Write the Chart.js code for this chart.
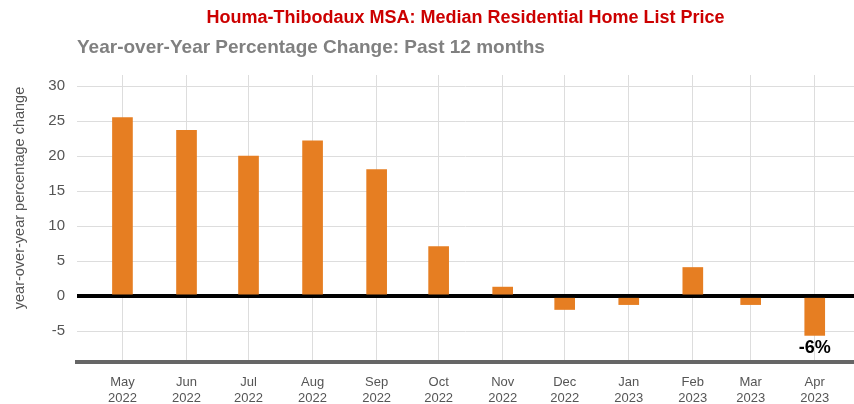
<!DOCTYPE html>
<html>
<head>
<meta charset="utf-8">
<script src="https://cdn.jsdelivr.net/npm/chart.js@4"></script>
<style>
  html, body { margin: 0; padding: 0; background: #fff; }
  #wrap { width: 854px; height: 404px; }
</style>
</head>
<body>
<div id="wrap"><canvas id="yoyChart"></canvas></div>
<script>
// Data
const months = ['May', 'Jun', 'Jul', 'Aug', 'Sep', 'Oct', 'Nov', 'Dec', 'Jan', 'Feb', 'Mar', 'Apr'];
const years = ['2022', '2022', '2022', '2022', '2022', '2022', '2022', '2022', '2023', '2023', '2023', '2023'];
const dates = ['2022-05-01', '2022-06-01', '2022-07-01', '2022-08-01', '2022-09-01', '2022-10-01',
               '2022-11-01', '2022-12-01', '2023-01-01', '2023-02-01', '2023-03-01', '2023-04-01'];
const pctChange = [25.5, 23.7, 20.0, 22.2, 18.1, 7.1, 1.3, -1.9, -1.2, 4.1, -1.2, -5.6];
const yTicks = [-5, 0, 5, 10, 15, 20, 25, 30];

const chartTitle = 'Houma-Thibodaux MSA: Median Residential Home List Price';
const chartSubtitle = 'Year-over-Year Percentage Change: Past 12 months';
const yTitle = 'year-over-year percentage change';

// days since first month, so bars sit on a real time spacing
const t0 = Date.parse(dates[0]);
const days = dates.map(d => Math.round((Date.parse(d) - t0) / 86400000));

const FONT = '"Liberation Sans", Arial, sans-serif';

// titles, rotated y label and the last-value annotation
const textPlugin = {
    id: 'texts',
    afterDraw(chart) {
        const ctx = chart.ctx;
        const area = chart.chartArea;
        ctx.save();
        ctx.textBaseline = 'middle';

        ctx.fillStyle = '#CC0000';
        ctx.font = 'bold 18px ' + FONT;
        ctx.textAlign = 'center';
        ctx.fillText(chartTitle, (area.left + area.right) / 2, 18);

        ctx.fillStyle = '#808080';
        ctx.font = 'bold 19px ' + FONT;
        ctx.textAlign = 'left';
        ctx.fillText(chartSubtitle, area.left, 48);

        ctx.fillStyle = '#555555';
        ctx.font = '14.5px ' + FONT;
        ctx.textAlign = 'center';
        ctx.translate(20, 198);
        ctx.rotate(-Math.PI / 2);
        ctx.fillText(yTitle, 0, 0);
        ctx.restore();

        // label under the latest bar
        const last = pctChange.length - 1;
        const x = chart.scales.x.getPixelForValue(days[last]);
        const y = chart.scales.y.getPixelForValue(pctChange[last]);
        ctx.save();
        ctx.fillStyle = '#000';
        ctx.font = 'bold 18px ' + FONT;
        ctx.textAlign = 'center';
        ctx.textBaseline = 'middle';
        ctx.fillText(Math.round(pctChange[last]) + '%', x, y + 13);
        ctx.restore();
    }
};

const data = {
    datasets: [{
        label: 'YoY % change',
        data: days.map((d, i) => ({ x: d, y: pctChange[i] })),
        backgroundColor: '#E67E22',
        borderWidth: 0,
        barThickness: 20
    }]
};

const config = {
    type: 'bar',
    data: data,
    options: {
        responsive: true,
        maintainAspectRatio: false,
        animation: false,
        layout: { padding: { top: 75, right: 0, left: 0, bottom: 0 } },
        plugins: {
            legend: { display: false },
            tooltip: { enabled: false }
        },
        scales: {
            x: {
                type: 'linear',
                min: -22,
                max: 354,
                offset: false,
                afterBuildTicks: s => { s.ticks = days.map(v => ({ value: v })); },
                afterFit: s => { s.height = 42; },
                ticks: {
                    autoSkip: false,
                    maxRotation: 0,
                    padding: 13,
                    color: '#555555',
                    font: { family: FONT, size: 13, lineHeight: 1.2 },
                    callback: (v, i) => [months[i], years[i]]
                },
                grid: { color: '#dddddd', lineWidth: 1, drawTicks: false, offset: false },
                border: { display: true, color: '#666666', width: 4 }
            },
            y: {
                min: -9.4,
                max: 31.6,
                afterBuildTicks: s => { s.ticks = yTicks.map(v => ({ value: v })); },
                afterFit: s => { s.width = 77; },
                ticks: {
                    padding: 12,
                    color: '#555555',
                    font: { family: FONT, size: 15 }
                },
                grid: {
                    drawTicks: false,
                    color: c => c.tick && c.tick.value === 0 ? '#000000' : '#dddddd',
                    lineWidth: c => c.tick && c.tick.value === 0 ? 4 : 1
                },
                border: { display: false }
            }
        }
    },
    plugins: [textPlugin]
};

const yoyChart = new Chart(document.getElementById('yoyChart'), config);
</script>
</body>
</html>
